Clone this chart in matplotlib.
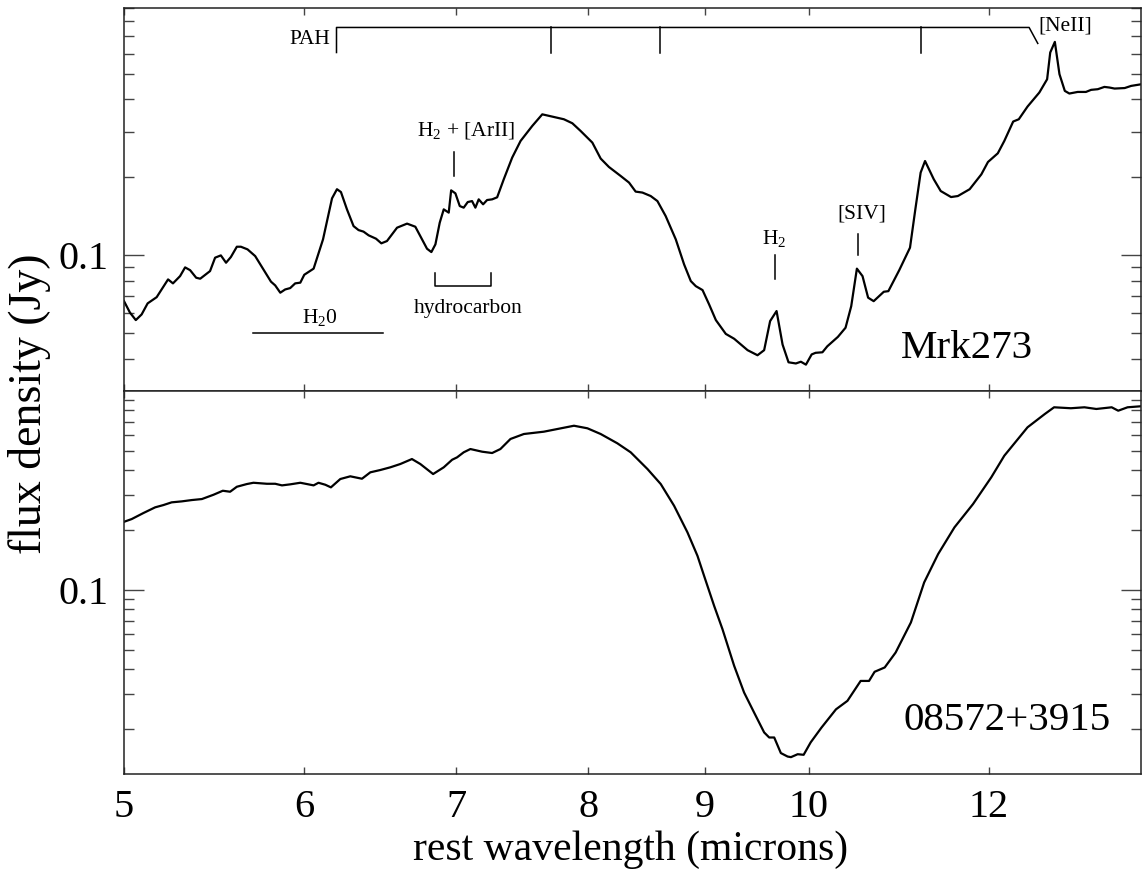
import matplotlib
matplotlib.use('Agg')
import matplotlib.pyplot as plt
from matplotlib.ticker import LogLocator, NullLocator, NullFormatter, FixedLocator, FixedFormatter

plt.rcParams['font.family'] = 'serif'
plt.rcParams['font.serif'] = ['Liberation Serif', 'DejaVu Serif']
plt.rcParams['mathtext.fontset'] = 'custom'
plt.rcParams['mathtext.rm'] = 'Liberation Serif'
plt.rcParams['mathtext.it'] = 'Liberation Serif:italic'

# Mrk273 spectrum (microns, Jy)
mrk_wave = [5.000, 5.030, 5.060, 5.090, 5.121, 5.168, 5.228, 5.254, 5.292, 5.319,
            5.346, 5.379, 5.401, 5.455, 5.483, 5.515, 5.544, 5.571, 5.605, 5.628,
            5.666, 5.710, 5.758, 5.802, 5.827, 5.857, 5.886, 5.916, 5.946, 5.977,
            6.001, 6.058, 6.116, 6.172, 6.203, 6.228, 6.266, 6.308, 6.340, 6.372,
            6.405, 6.453, 6.488, 6.525, 6.592, 6.659, 6.715, 6.761, 6.795, 6.825,
            6.853, 6.883, 6.911, 6.946, 6.963, 6.993, 7.024, 7.052, 7.081, 7.112,
            7.136, 7.160, 7.192, 7.221, 7.258, 7.295, 7.344, 7.407, 7.470, 7.559,
            7.636, 7.805, 7.872, 7.938, 8.033, 8.101, 8.169, 8.267, 8.337, 8.393,
            8.451, 8.522, 8.580, 8.652, 8.741, 8.815, 8.875, 8.920, 8.981, 9.041,
            9.103, 9.195, 9.273, 9.400, 9.495, 9.559, 9.617, 9.680, 9.739, 9.798,
            9.871, 9.921, 9.972, 10.03, 10.07, 10.14, 10.19, 10.30, 10.38, 10.44,
            10.50, 10.56, 10.62, 10.68, 10.79, 10.84, 10.96, 11.08, 11.14, 11.20,
            11.25, 11.35, 11.43, 11.55, 11.63, 11.77, 11.91, 11.99, 12.11, 12.19,
            12.30, 12.37, 12.48, 12.63, 12.73, 12.77, 12.83, 12.89, 12.96, 13.02,
            13.13, 13.24, 13.31, 13.40, 13.49, 13.56, 13.63, 13.77, 13.86, 14.00]
mrk_flux = [0.0666, 0.0602, 0.0563, 0.0592, 0.0653, 0.0690, 0.0808, 0.0780, 0.0832, 0.0899,
            0.0877, 0.0820, 0.0813, 0.0870, 0.0980, 0.1000, 0.0937, 0.0985, 0.108, 0.108,
            0.1055, 0.0994, 0.0883, 0.0792, 0.0766, 0.0718, 0.0739, 0.0748, 0.0780, 0.0785,
            0.0842, 0.0889, 0.1153, 0.166, 0.180, 0.1755, 0.1505, 0.1297, 0.1252, 0.1235,
            0.1195, 0.116, 0.1113, 0.1136, 0.1279, 0.1326, 0.129, 0.1153, 0.1061, 0.1030,
            0.1103, 0.1337, 0.1505, 0.1462, 0.1782, 0.1735, 0.155, 0.1528, 0.1606, 0.162,
            0.1528, 0.1645, 0.1574, 0.1635, 0.1645, 0.1675, 0.1966, 0.2384, 0.2763, 0.3157,
            0.350, 0.335, 0.3233, 0.302, 0.2723, 0.2363, 0.2193, 0.2024, 0.1909, 0.1762,
            0.1747, 0.1694, 0.162, 0.1418, 0.1153, 0.0923, 0.0796, 0.0761, 0.0735, 0.0647,
            0.0563, 0.0498, 0.0477, 0.0431, 0.0412, 0.0431, 0.0558, 0.0610, 0.0453, 0.0387,
            0.0383, 0.0389, 0.0379, 0.0415, 0.0421, 0.0423, 0.0446, 0.0485, 0.0526, 0.0637,
            0.0889, 0.0832, 0.0687, 0.0666, 0.0724, 0.0728, 0.0877, 0.1071, 0.1505, 0.2086,
            0.2312, 0.1966, 0.1771, 0.1679, 0.1694, 0.180, 0.2054, 0.2292, 0.2476, 0.2763,
            0.3283, 0.335, 0.375, 0.4248, 0.478, 0.606, 0.666, 0.500, 0.431, 0.421,
            0.427, 0.427, 0.435, 0.4375, 0.4465, 0.444, 0.440, 0.442, 0.4505, 0.457]

# 08572+3915 spectrum
iras_wave = [5.000, 5.039, 5.099, 5.160, 5.203, 5.247, 5.301, 5.355, 5.410, 5.474,
             5.526, 5.567, 5.605, 5.662, 5.700, 5.778, 5.827, 5.867, 5.916, 5.977,
             6.017, 6.058, 6.088, 6.130, 6.165, 6.224, 6.287, 6.362, 6.416, 6.481,
             6.547, 6.614, 6.692, 6.749, 6.837, 6.911, 6.970, 7.005, 7.052, 7.100,
             7.185, 7.258, 7.319, 7.394, 7.495, 7.648, 7.753, 7.885, 7.993, 8.101,
             8.239, 8.351, 8.494, 8.609, 8.726, 8.845, 8.935, 8.995, 9.087, 9.164,
             9.273, 9.367, 9.462, 9.559, 9.608, 9.657, 9.722, 9.789, 9.822, 9.889,
             9.949, 10.02, 10.13, 10.28, 10.40, 10.54, 10.63, 10.69, 10.80, 10.92,
             11.09, 11.24, 11.40, 11.59, 11.81, 12.03, 12.19, 12.36, 12.48, 12.70,
             12.82, 13.04, 13.22, 13.38, 13.59, 13.68, 13.81, 14.00]
iras_flux = [0.2203, 0.2274, 0.2438, 0.2604, 0.2673, 0.2759, 0.279, 0.2833, 0.2866, 0.3012,
             0.3155, 0.3119, 0.3304, 0.3409, 0.346, 0.342, 0.342, 0.3357, 0.3397, 0.346,
             0.3409, 0.3357, 0.346, 0.3382, 0.3281, 0.3613, 0.3728, 0.3625, 0.3904, 0.4009,
             0.4136, 0.4298, 0.4552, 0.4298, 0.3827, 0.4136, 0.4515, 0.4642, 0.492, 0.511,
             0.4955, 0.488, 0.511, 0.574, 0.608, 0.6245, 0.644, 0.669, 0.6495, 0.608,
             0.546, 0.492, 0.4055, 0.3409, 0.2652, 0.195, 0.1487, 0.118, 0.0834, 0.0637,
             0.0417, 0.0306, 0.0243, 0.0193, 0.0182, 0.0182, 0.0152, 0.0146, 0.0145, 0.0150,
             0.0149, 0.0172, 0.0204, 0.0252, 0.0278, 0.0350, 0.0350, 0.0389, 0.0409, 0.0486,
             0.0688, 0.1093, 0.1517, 0.2066, 0.2705, 0.3684, 0.473, 0.574, 0.657, 0.766,
             0.828, 0.819, 0.828, 0.812, 0.828, 0.796, 0.828, 0.838]

xticks = [5, 6, 7, 8, 9, 10, 12]
xticklabels = ['5', '6', '7', '8', '9', '10', '12']

# PAH features
pah_left = 6.20
pah_ticks = [7.70, 8.60, 11.2]
pah_right = 12.50

fig = plt.figure(figsize=(11.43, 8.77), dpi=100)
ax1 = fig.add_axes([0.1085, 0.5542, 0.8898, 0.4367])
ax2 = fig.add_axes([0.1085, 0.118, 0.8898, 0.4362])

for ax in (ax1, ax2):
    ax.set_xscale('log')
    ax.set_yscale('log')
    ax.set_xlim(5, 14)
    ax.xaxis.set_major_locator(FixedLocator(xticks))
    ax.xaxis.set_major_formatter(FixedFormatter(xticklabels))
    ax.xaxis.set_minor_locator(NullLocator())
    ax.yaxis.set_major_locator(FixedLocator([0.1]))
    ax.yaxis.set_major_formatter(FixedFormatter(['0.1']))
    ax.yaxis.set_minor_locator(LogLocator(base=10, subs=range(2, 10)))
    ax.yaxis.set_minor_formatter(NullFormatter())
    ax.tick_params(which='both', direction='in', top=True, right=True,
                   labelsize=29, pad=11, color='#444444')
    ax.tick_params(axis='y', which='major', length=14.4, width=1)
    ax.tick_params(axis='y', which='minor', length=7.2, width=1)
    ax.tick_params(axis='x', which='major', length=5, width=1)
    for s in ax.spines.values():
        s.set_color('#222222')
        s.set_linewidth(1.1)

ax1.tick_params(labelbottom=False)
ax1.set_ylim(0.03, 0.9)
ax2.set_ylim(0.012, 1.0)

ax1.plot(mrk_wave, mrk_flux, color='black', lw=1.6)
ax2.plot(iras_wave, iras_flux, color='black', lw=1.6)

# annotations on the Mrk273 panel
lk = dict(color='black', lw=1.1)
fs = 15.5
ax1.plot([pah_left, pah_left, pah_right, 12.61], [0.606, 0.757, 0.757, 0.657], **lk)
for w in pah_ticks:
    ax1.plot([w, w], [0.757, 0.606], **lk)
ax1.text(6.16, 0.653, 'PAH', fontsize=fs, ha='right', va='baseline')
ax1.text(12.96, 0.7345, '[NeII]', fontsize=fs, ha='center', va='baseline')

ax1.plot([6.98, 6.98], [0.2024, 0.2506], **lk)
ax1.text(7.07, 0.289, 'H$_2$ + [ArII]', fontsize=fs, ha='center', va='baseline')

ax1.plot([6.848, 6.848, 7.251, 7.251], [0.0852, 0.0761, 0.0761, 0.0852], **lk)
ax1.text(7.083, 0.0601, 'hydrocarbon', fontsize=fs, ha='center', va='baseline')

ax1.plot([5.70, 6.499], [0.0503, 0.0503], **lk)
ax1.text(6.098, 0.0550, 'H$_2$0', fontsize=fs, ha='center', va='baseline')

ax1.plot([9.66, 9.66], [0.0808, 0.1], **lk)
ax1.text(9.66, 0.1103, 'H$_2$', fontsize=fs, ha='center', va='baseline')

ax1.plot([10.51, 10.51], [0.1, 0.1205], **lk)
ax1.text(10.55, 0.1386, '[SIV]', fontsize=fs, ha='center', va='baseline')

ax1.text(0.894, 0.0854, 'Mrk273', fontsize=29.5, ha='right', va='baseline',
         transform=ax1.transAxes)
ax2.text(0.9705, 0.114, '08572+3915', fontsize=29.5, ha='right', va='baseline',
         transform=ax2.transAxes)

fig.text(30 / 1143, 1 - 404 / 877, 'flux density (Jy)', rotation=90, fontsize=33,
         ha='center', va='center')
fig.text(631 / 1143, 1 - 860 / 877, 'rest wavelength (microns)', fontsize=30,
         ha='center', va='baseline')

fig.savefig('out.png', dpi=100)
